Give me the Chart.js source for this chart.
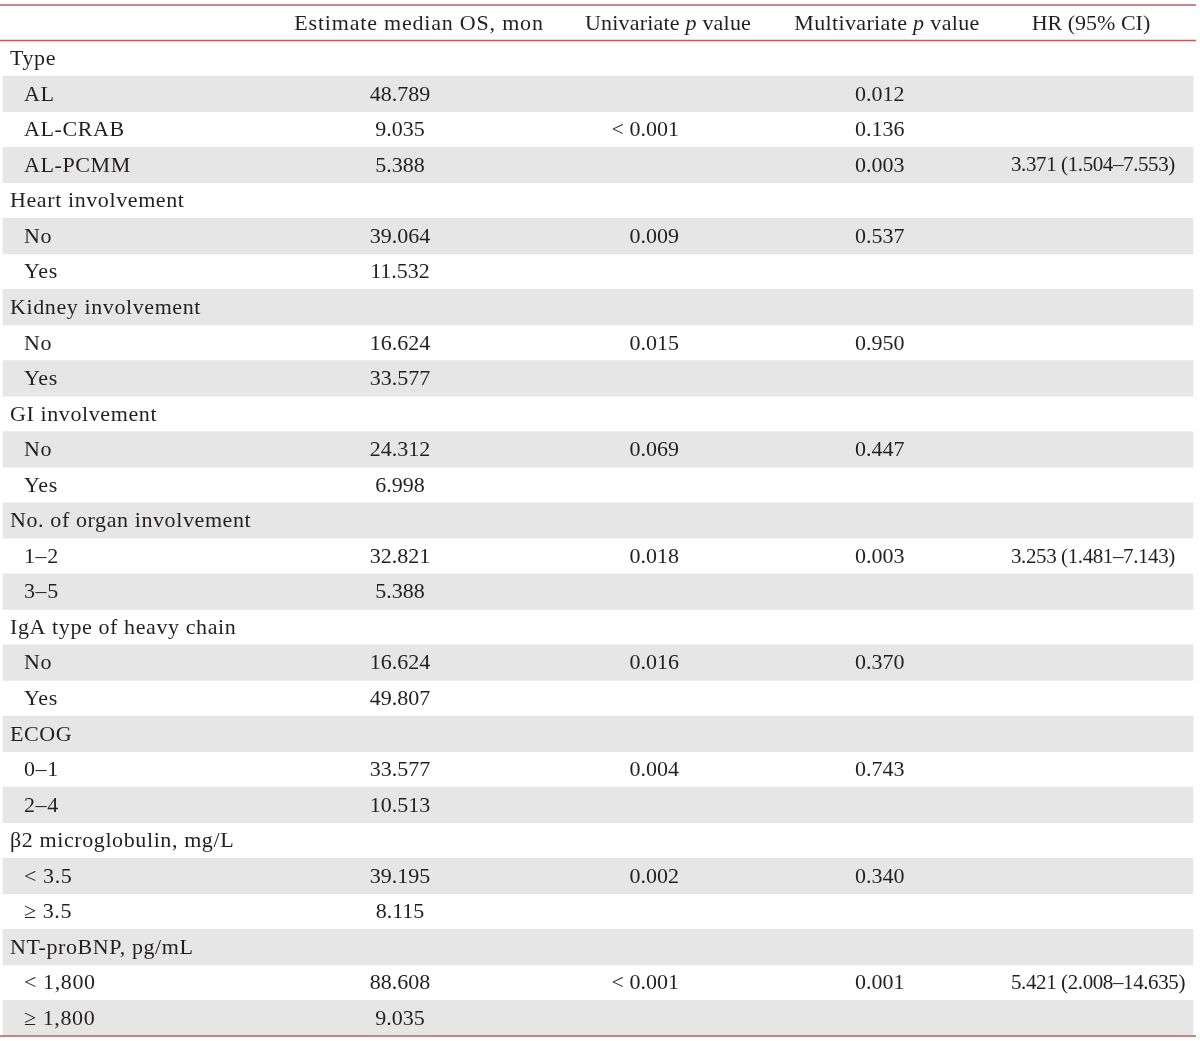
<!DOCTYPE html>
<html>
<head>
<meta charset="utf-8">
<script src="https://cdn.jsdelivr.net/npm/chart.js@4.4.1/dist/chart.umd.min.js"></script>
<style>
  html, body { margin: 0; padding: 0; background: #fff; }
</style>
</head>
<body>
<canvas id="chart" width="1200" height="1041"></canvas>
<script>
// table content
const headers = ['', 'Estimate median OS, mon', 'Univariate p value', 'Multivariate p value', 'HR (95% CI)'];

const rowLabels = [
    'Type', 'AL', 'AL-CRAB', 'AL-PCMM',
    'Heart involvement', 'No', 'Yes',
    'Kidney involvement', 'No', 'Yes',
    'GI involvement', 'No', 'Yes',
    'No. of organ involvement', '1–2', '3–5',
    'IgA type of heavy chain', 'No', 'Yes',
    'ECOG', '0–1', '2–4',
    'β2 microglobulin, mg/L', '< 3.5', '≥ 3.5',
    'NT-proBNP, pg/mL', '< 1,800', '≥ 1,800'
];
const isGroup = [
    true, false, false, false,
    true, false, false,
    true, false, false,
    true, false, false,
    true, false, false,
    true, false, false,
    true, false, false,
    true, false, false,
    true, false, false
];
const medianOS = [
    '', '48.789', '9.035', '5.388',
    '', '39.064', '11.532',
    '', '16.624', '33.577',
    '', '24.312', '6.998',
    '', '32.821', '5.388',
    '', '16.624', '49.807',
    '', '33.577', '10.513',
    '', '39.195', '8.115',
    '', '88.608', '9.035'
];
const univariateP = [
    '', '', '< 0.001', '',
    '', '0.009', '',
    '', '0.015', '',
    '', '0.069', '',
    '', '0.018', '',
    '', '0.016', '',
    '', '0.004', '',
    '', '0.002', '',
    '', '< 0.001', ''
];
const multivariateP = [
    '', '0.012', '0.136', '0.003',
    '', '0.537', '',
    '', '0.950', '',
    '', '0.447', '',
    '', '0.003', '',
    '', '0.370', '',
    '', '0.743', '',
    '', '0.340', '',
    '', '0.001', ''
];
const hazardRatio = [
    '', '', '', '3.371 (1.504–7.553)',
    '', '', '',
    '', '', '',
    '', '', '',
    '', '3.253 (1.481–7.143)', '',
    '', '', '',
    '', '', '',
    '', '', '',
    '', '5.421 (2.008–14.635)', ''
];

const FONT = '"Liberation Serif", "DejaVu Serif", serif';
const TEXT = '#231f20';
const RULE = '#c25a5c';
const STRIPE = '#e6e6e6';

// row 0 is the header, rows 1.. are the body; every second body row is striped
const labels = ['header'].concat(rowLabels);
const stripes = labels.map((_, i) => (i > 0 && i % 2 === 0) ? [3, 1193] : null);

// column anchors in x-scale units
const cols = {
    label: 10, indent: 24,
    os: 400, osHead: 419,
    uni: 679, uniHead: 668,
    multi: 855, multiHead: 887,
    hr: 1011, hrHead: 1091
};

function setFont(ctx, italic, spacing, size) {
    ctx.font = (italic ? 'italic ' : '') + (size || 22) + 'px ' + FONT;
    ctx.letterSpacing = spacing + 'px';
}

function drawRich(ctx, parts, x, y, spacing) {
    // parts: [text, italic], centred on x
    let total = 0;
    parts.forEach(p => {
        setFont(ctx, p[1], spacing);
        total += ctx.measureText(p[0]).width;
    });
    let cx = x - total / 2;
    ctx.textAlign = 'left';
    parts.forEach(p => {
        setFont(ctx, p[1], spacing);
        ctx.fillText(p[0], cx, y);
        cx += ctx.measureText(p[0]).width;
    });
}

const tablePlugin = {
    id: 'tableText',
    afterDatasetsDraw(chart) {
        const ctx = chart.ctx;
        const xs = chart.scales.x;
        const ys = chart.scales.y;
        const half = (ys.getPixelForValue(1) - ys.getPixelForValue(0)) / 2;
        ctx.save();
        ctx.fillStyle = TEXT;
        ctx.textBaseline = 'middle';

        // header
        const hy = ys.getPixelForValue(0) + 1;
        drawRich(ctx, [[headers[1], false]], xs.getPixelForValue(cols.osHead), hy, 0.8);
        drawRich(ctx, [['Univariate ', false], ['p', true], [' value', false]], xs.getPixelForValue(cols.uniHead), hy, 0.2);
        drawRich(ctx, [['Multivariate ', false], ['p', true], [' value', false]], xs.getPixelForValue(cols.multiHead), hy, 0.35);
        drawRich(ctx, [[headers[4], false]], xs.getPixelForValue(cols.hrHead), hy, 0);

        rowLabels.forEach((lab, i) => {
            const y = ys.getPixelForValue(i + 1) + 1;
            ctx.textAlign = 'left';
            setFont(ctx, false, 0.6);
            ctx.fillText(lab, xs.getPixelForValue(isGroup[i] ? cols.label : cols.indent), y);
            setFont(ctx, false, 0);
            if (multivariateP[i]) ctx.fillText(multivariateP[i], xs.getPixelForValue(cols.multi), y);
            if (medianOS[i]) {
                ctx.textAlign = 'center';
                ctx.fillText(medianOS[i], xs.getPixelForValue(cols.os), y);
            }
            if (univariateP[i]) {
                ctx.textAlign = 'right';
                ctx.fillText(univariateP[i], xs.getPixelForValue(cols.uni), y);
            }
            if (hazardRatio[i]) {
                ctx.textAlign = 'left';
                setFont(ctx, false, -0.4, 21);
                ctx.fillText(hazardRatio[i], xs.getPixelForValue(cols.hr), y);
            }
        });

        // red rules: top, under header, bottom
        ctx.strokeStyle = RULE;
        ctx.lineWidth = 1.6;
        const x0 = xs.getPixelForValue(0), x1 = xs.getPixelForValue(1196);
        [ys.getPixelForValue(0) - half, ys.getPixelForValue(0) + half, ys.getPixelForValue(labels.length - 1) + half].forEach(y => {
            ctx.beginPath();
            ctx.moveTo(x0, y);
            ctx.lineTo(x1, y);
            ctx.stroke();
        });
        ctx.restore();
    }
};

const ctx = document.getElementById('chart').getContext('2d');
const chart = new Chart(ctx, {
    type: 'bar',
    data: {
        labels: labels,
        datasets: [{
            data: stripes,
            backgroundColor: STRIPE,
            borderWidth: 0,
            barPercentage: 1,
            categoryPercentage: 1
        }]
    },
    options: {
        indexAxis: 'y',
        responsive: false,
        animation: false,
        devicePixelRatio: 1,
        layout: { padding: { top: 5, bottom: 5, left: 0, right: 0 } },
        scales: {
            x: { type: 'linear', min: 0, max: 1200, display: false },
            y: { type: 'category', display: false, grid: { display: false } }
        },
        plugins: { legend: { display: false }, tooltip: { enabled: false } }
    },
    plugins: [tablePlugin]
});
</script>
</body>
</html>
